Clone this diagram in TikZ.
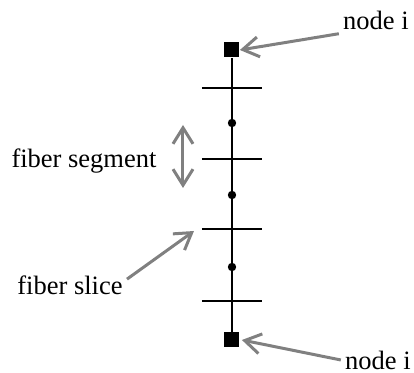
\documentclass[tikz,border=0pt]{standalone}
\usepackage{fontspec}
\setmainfont{Liberation Serif}
\usetikzlibrary{positioning, arrows.meta}
\definecolor{ink}{HTML}{000000}
\definecolor{pointer}{HTML}{808080}

\begin{document}
\begin{tikzpicture}[x=0.5pt, y=-0.5pt,
  font=\fontsize{13.25}{16}\selectfont,
  endpt/.style={fill=ink, minimum size=7.5pt, inner sep=0pt},
  midpt/.style={circle, fill=ink, minimum size=4.2pt, inner sep=0pt},
  lbl/.style={inner sep=2pt},
  tick/.style={ink, line width=1pt},
  arr/.style={-{Straight Barb[length=8pt, width=10pt]}, pointer, line width=1.5pt},
  dblarr/.style={{Straight Barb[length=8pt, width=10pt]}-{Straight Barb[length=8pt, width=10pt]}, pointer, line width=1.5pt}]
  \useasboundingbox (0,0) rectangle (414,373);
  % fibre with its end nodes
  \node[endpt] (ntop) at (232,50) {};
  \node[endpt] (nbot) at (232,340) {};
  \draw[tick] (ntop) -- (nbot);
  \coordinate (cut1) at (232,88);
  \coordinate (cut2) at (232,159);
  \coordinate (cut3) at (232,229);
  \coordinate (cut4) at (232,301);
  \draw[tick] ([xshift=-15pt]cut1) -- ([xshift=15pt]cut1);
  \draw[tick] ([xshift=-15pt]cut2) -- ([xshift=15pt]cut2);
  \draw[tick] ([xshift=-15pt]cut3) -- ([xshift=15pt]cut3);
  \draw[tick] ([xshift=-15pt]cut4) -- ([xshift=15pt]cut4);
  \node[midpt] (mid1) at (232,123) {};
  \node[midpt] (mid2) at (232,195) {};
  \node[midpt] (mid3) at (232,267) {};
  % labels
  \node[lbl] (lbltop) at (376,20) {node i};
  \node[lbl] (lblbot) at (378,360) {node i};
  \node[lbl] (lblseg) at (84,161) {fiber segment};
  \node[lbl] (lblslice) at (70,285) {fiber slice};
  \coordinate (segtop) at (183,125);
  \coordinate (segbot) at (183,188);
  \draw[arr] (lbltop.south west) -- (ntop.east);
  \draw[arr] (lblbot.west) -- ([xshift=1pt]nbot.east);
  \draw[dblarr] (segtop) -- (segbot);
  \draw[arr] ([shift={(0pt,-4pt)}]lblslice.north east) -- ([shift={(-19pt,-1pt)}]cut3);
\end{tikzpicture}
\end{document}
